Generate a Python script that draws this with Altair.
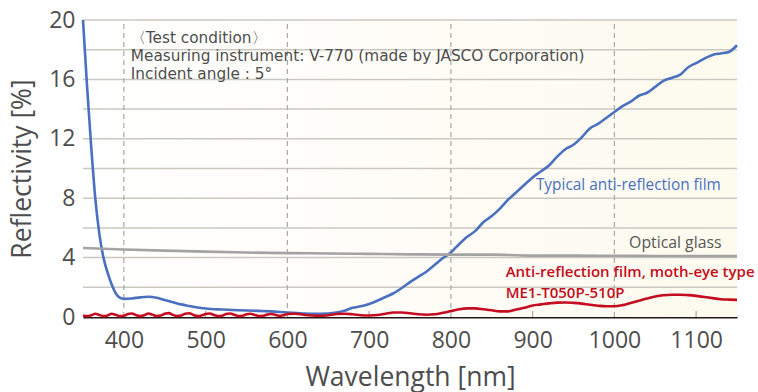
import altair as alt
import pandas as pd

FONT = "Open Sans"

# Typical anti-reflection film
blue_nm = [350, 355, 360, 365, 370, 375, 380, 385, 390, 395, 400, 410, 420, 430, 440, 450, 460, 470, 480, 490,
           500, 520, 540, 560, 580, 600, 620, 640, 660, 670, 680, 690, 700, 710, 720, 730, 740, 750, 760, 770,
           780, 790, 800, 810, 820, 830, 840, 850, 860, 870, 880, 890, 900, 910, 920, 930, 940, 950, 960, 970,
           980, 990, 1000, 1010, 1020, 1030, 1040, 1050, 1060, 1070, 1080, 1090, 1100, 1110, 1120, 1130, 1140, 1150]
blue_r = [20.0, 15.5, 11.5, 8.0, 5.6, 4.0, 3.0, 2.2, 1.6, 1.3, 1.22, 1.25, 1.32, 1.36, 1.3, 1.15, 1.0, 0.85, 0.74, 0.64,
          0.57, 0.5, 0.45, 0.42, 0.38, 0.3, 0.24, 0.22, 0.3, 0.42, 0.62, 0.72, 0.88, 1.1, 1.35, 1.6, 1.95, 2.35, 2.7, 3.05,
          3.5, 3.95, 4.35, 4.9, 5.4, 5.8, 6.4, 6.8, 7.3, 7.9, 8.4, 8.9, 9.4, 9.8, 10.2, 10.8, 11.3, 11.6, 12.1, 12.7,
          13.0, 13.4, 13.8, 14.2, 14.5, 14.9, 15.1, 15.5, 15.9, 16.1, 16.3, 16.8, 17.1, 17.4, 17.65, 17.75, 17.85, 18.3]

# Optical glass
grey_nm = [350, 400, 450, 500, 550, 600, 650, 700, 750, 800, 850, 870, 900, 950, 1000, 1050, 1100, 1150]
grey_r = [4.65, 4.55, 4.47, 4.4, 4.34, 4.3, 4.28, 4.25, 4.22, 4.2, 4.2, 4.18, 4.13, 4.13, 4.12, 4.11, 4.1, 4.1]

# Anti-reflection film, moth-eye type
red_nm = [350, 355, 360, 365, 370, 375, 380, 385, 390, 395, 400, 405, 410, 415, 420, 425, 430, 435, 440, 445,
          450, 455, 460, 465, 470, 475, 480, 485, 490, 495, 500, 505, 510, 515, 520, 525, 530, 535, 540, 545,
          550, 555, 560, 565, 570, 575, 580, 585, 590, 595, 600, 610, 620, 630, 640, 650, 660, 670, 680, 690,
          700, 710, 720, 730, 740, 750, 760, 770, 780, 790, 800, 810, 820, 830, 840, 850, 860, 870, 880, 890,
          900, 910, 920, 930, 940, 950, 960, 970, 980, 990, 1000, 1010, 1020, 1030, 1040, 1050, 1060, 1070, 1080,
          1090, 1100, 1110, 1120, 1130, 1140, 1150]
red_r = [0.1, 0.06, 0.12, 0.22, 0.14, 0.06, 0.1, 0.22, 0.15, 0.06, 0.08, 0.2, 0.24, 0.12, 0.06, 0.12, 0.24, 0.16, 0.07,
         0.1, 0.22, 0.26, 0.14, 0.07, 0.1, 0.22, 0.25, 0.14, 0.06, 0.1, 0.2, 0.24, 0.14, 0.07, 0.09, 0.2, 0.24, 0.15,
         0.07, 0.09, 0.18, 0.22, 0.14, 0.07, 0.08, 0.16, 0.2, 0.15, 0.08, 0.12, 0.2, 0.22, 0.15, 0.1, 0.08, 0.12,
         0.2, 0.22, 0.18, 0.12, 0.1, 0.13, 0.22, 0.3, 0.3, 0.25, 0.18, 0.15, 0.18, 0.28, 0.4, 0.52, 0.58, 0.58,
         0.52, 0.45, 0.38, 0.38, 0.5, 0.62, 0.78, 0.85, 0.92, 0.97, 0.98, 0.95, 0.9, 0.82, 0.76, 0.72, 0.72, 0.8,
         0.95, 1.1, 1.25, 1.38, 1.46, 1.5, 1.5, 1.47, 1.42, 1.35, 1.27, 1.2, 1.17, 1.15]

x_ticks = [400, 500, 600, 700, 800, 900, 1000, 1100]
y_ticks = [0, 4, 8, 12, 16, 20]
h_grid = [2, 4, 6, 8, 10, 12, 14, 16, 18, 20]
v_grid = [400, 600, 800, 1000]
minor_ticks = [500, 700, 900, 1100]

condition_lines = ["〈Test condition〉",
                   "Measuring instrument: V-770 (made by JASCO Corporation)",
                   "Incident angle : 5°"]

BLUE = "#4a70bf"
GREY = "#a3a3a3"
RED = "#c40d20"
TXT = "#4d4d4d"

xs = alt.Scale(domain=[350, 1150], nice=False, zero=False)
ys = alt.Scale(domain=[0, 20], nice=False)

df = pd.concat([
    pd.DataFrame({"nm": blue_nm, "r": blue_r, "s": "blue"}),
    pd.DataFrame({"nm": grey_nm, "r": grey_r, "s": "grey"}),
    pd.DataFrame({"nm": red_nm, "r": red_r, "s": "red"}),
])

bg = alt.Chart(pd.DataFrame({"a": [350], "b": [1150], "c": [0], "d": [20]})).mark_rect(
    color=alt.Gradient(
        gradient="linear",
        stops=[alt.GradientStop(color="#ffffff", offset=0),
               alt.GradientStop(color="#fdfaee", offset=1)],
        x1=0, x2=1, y1=0, y2=0,
    )
).encode(
    x=alt.X("a:Q", scale=xs, axis=alt.Axis(
        values=x_ticks, format="d", title="Wavelength [nm]", grid=False, ticks=False,
        domainColor="#231815", domainWidth=2, labelFontSize=23, labelColor=TXT,
        labelFont=FONT, labelPadding=12, titleFont=FONT, titleFontSize=26.5,
        titleFontWeight="normal", titleColor=TXT, titlePadding=12)),
    x2="b:Q",
    y=alt.Y("c:Q", scale=ys, axis=alt.Axis(
        values=y_ticks, format="d", title="Reflectivity [%]", grid=False, ticks=False, domain=False,
        labelFontSize=23, labelColor=TXT, labelFont=FONT, labelPadding=8,
        titleFont=FONT, titleFontSize=26.5, titleFontWeight="normal", titleColor=TXT,
        titlePadding=12)),
    y2="d:Q",
)

hgrid = alt.Chart(pd.DataFrame({"g": h_grid})).mark_rule(color="#cbc8c2", strokeWidth=1.5).encode(
    y=alt.Y("g:Q", scale=ys), x=alt.datum(350, scale=xs), x2=alt.datum(1150)
)
vgrid = alt.Chart(pd.DataFrame({"g": v_grid})).mark_rule(
    color="#a8a8a8", strokeWidth=1.2, strokeDash=[5, 4]
).encode(x=alt.X("g:Q", scale=xs), y=alt.datum(0, scale=ys), y2=alt.datum(20))
mticks = alt.Chart(pd.DataFrame({"g": minor_ticks})).mark_rule(
    color="#a8a8a8", strokeWidth=1.2
).encode(x=alt.X("g:Q", scale=xs), y=alt.datum(0, scale=ys), y2=alt.datum(0.4))

lines = alt.Chart(df).mark_line(strokeWidth=2.6, interpolate="monotone").encode(
    x=alt.X("nm:Q", scale=xs),
    y=alt.Y("r:Q", scale=ys),
    color=alt.Color("s:N", scale=alt.Scale(domain=["grey", "red", "blue"], range=[GREY, RED, BLUE]), legend=None),
    detail="s:N",
)

cond = alt.Chart(pd.DataFrame({"t": condition_lines, "yy": [18.8, 17.57, 16.33]})).mark_text(
    align="left", baseline="middle", font="DejaVu Sans", fontSize=15.3, color=TXT
).encode(x=alt.datum(408.5, scale=xs), y=alt.Y("yy:Q", scale=ys), text="t:N")

def label(txt, x, y, color, size=15, weight="normal"):
    return alt.Chart(pd.DataFrame({"t": [txt]})).mark_text(
        align="left", baseline="middle", font=FONT, fontSize=size, color=color, fontWeight=weight
    ).encode(x=alt.datum(x, scale=xs), y=alt.datum(y, scale=ys), text="t:N")

labels = [
    label("Typical anti-reflection film", 904, 8.9, BLUE, 15.4),
    label("Optical glass", 1018, 5.0, "#595757", 15.8),
    label("Anti-reflection film, moth-eye type", 867, 3.03, RED, 15, 600),
    label("ME1-T050P-510P", 867, 1.62, RED, 15, 600),
]

chart = alt.layer(bg, hgrid, vgrid, mticks, lines, cond, *labels).properties(
    width=654, height=297,
    autosize=alt.AutoSizeParams(type="none"),
    padding={"left": 83, "top": 20, "right": 21, "bottom": 75},
).configure_view(stroke=None)

chart.save("out.html", embed_options={"renderer": "svg", "actions": False})
